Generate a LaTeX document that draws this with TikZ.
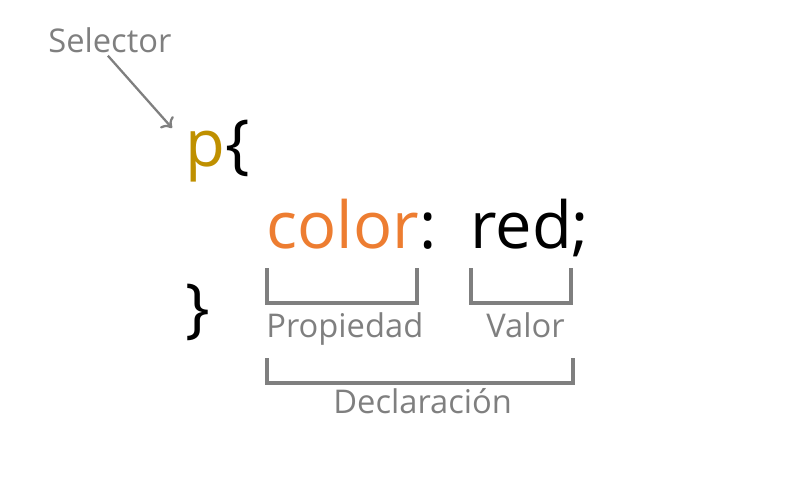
\documentclass[tikz,border=0pt]{standalone}
\usepackage{fontspec}
\setmainfont{Open Sans}
\usetikzlibrary{arrows,arrows.meta,positioning,calc}
\definecolor{markgray}{RGB}{127,127,127}
\definecolor{selgold}{RGB}{191,144,0}
\definecolor{proporange}{RGB}{237,125,49}
\tikzset{code/.style={inner sep=0pt, anchor=base west, font=\fontsize{37}{44}\selectfont},
  note/.style={inner sep=0pt, anchor=base west, text=markgray, font=\fontsize{18.6}{23}\selectfont},
  bracket/.style={draw=markgray, line width=2.1pt}}

\begin{document}
\begin{tikzpicture}[x=0.02cm,y=-0.02cm]
		\useasboundingbox (0,0) rectangle (809,487);
		% code
		\node[code,text=selgold] (pchar) at (185,166) {p};
		\node[code,right=0pt of pchar.base east,anchor=base west] (open) {\{};
		\node[code,text=proporange] (prop) at (266,248) {color};
		\node[code,right=0pt of prop.base east,anchor=base west] (colon) {:};
		\node[code] (val) at (470,248) {red;};
		\node[code] (close) at (185,330) {\}};
		% labels
		\node[note] (sel) at (48,52) {Selector};
		\node[note] (proplabel) at (266,337) {Propiedad};
		\node[note] (vallabel) at (486,337) {Valor};
		\node[note] (decl) at (333,413) {Declaración};
		\draw[markgray,line width=1.3pt,-{To[length=5pt,width=10pt]}] ($(sel.south)+(-2,3)$) -- ($(pchar.base west)+(-13,-38)$);
		% brackets
		\draw[bracket] (267,268) |- (417,303) -- (417,268);
		\draw[bracket] (471,268) |- (571,303) -- (571,268);
		\draw[bracket] (267,358) |- (573,383) -- (573,358);
		\end{tikzpicture}
\end{document}
